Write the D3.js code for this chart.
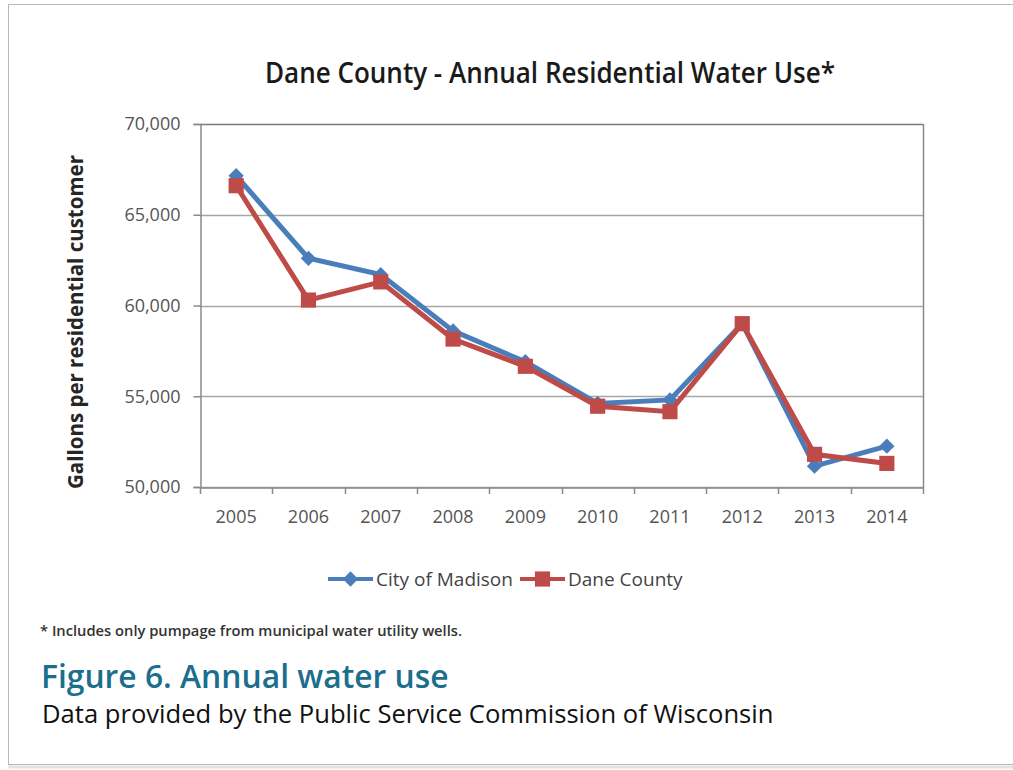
<!DOCTYPE html>
<html>
<head>
<meta charset="utf-8">
<script src="https://cdn.jsdelivr.net/npm/d3@7"></script>
<style>
  body { margin: 0; background: #fff; }
  svg { display: block; }
</style>
</head>
<body>
<svg id="chart" width="1013" height="770"></svg>
<script>
// data
var years = ['2005', '2006', '2007', '2008', '2009', '2010', '2011', '2012', '2013', '2014'];
var madison = [67150, 62600, 61700, 58600, 56900, 54600, 54800, 59000, 51150, 52250];
var dane = [66600, 60300, 61300, 58150, 56650, 54450, 54150, 59000, 51800, 51300];
var yTicks = [50000, 55000, 60000, 65000, 70000];

var svg = d3.select('#chart');

// page frame with a soft shadow
svg.append('rect').attr('x', 10).attr('y', 6).attr('width', 1020).attr('height', 761)
    .attr('fill', 'none').attr('stroke', '#e2e2e2').attr('stroke-width', 3);
svg.append('rect').attr('x', 8.5).attr('y', 4.5).attr('width', 1020).attr('height', 760)
    .attr('fill', '#fff').attr('stroke', '#b8b8b8').attr('stroke-width', 1);

var pLeft = 200, pRight = 923, pTop = 124, pBottom = 487;

var x = d3.scaleBand().domain(years).range([pLeft, pRight]);
var y = d3.scaleLinear().domain([50000, 70000]).range([pBottom, pTop]);

// title
svg.append('text').attr('x', 550).attr('y', 83).attr('text-anchor', 'middle')
    .style('font-family', 'Open Sans').style('font-weight', 600)
    .style('font-size', '28px')
    .attr('textLength', 570).attr('lengthAdjust', 'spacingAndGlyphs')
    .attr('fill', '#1a1a1a')
    .text('Dane County - Annual Residential Water Use*');

// gridlines
svg.append('g').selectAll('line').data(yTicks).join('line')
    .attr('x1', pLeft).attr('x2', pRight)
    .attr('y1', function(d) { return Math.round(y(d)) + 0.5; })
    .attr('y2', function(d) { return Math.round(y(d)) + 0.5; })
    .attr('stroke', function(d) { return d === 70000 ? '#7a7a7a' : '#a6a6a6'; })
    .attr('stroke-width', 1.5);

// plot border right
svg.append('line').attr('x1', pRight + 0.5).attr('x2', pRight + 0.5).attr('y1', pTop).attr('y2', pBottom)
    .attr('stroke', '#8a8a8a').attr('stroke-width', 1.5);

// y axis
var yAxis = svg.append('g').attr('transform', 'translate(' + (pLeft + 0.5) + ',0)')
    .call(d3.axisLeft(y).tickValues(yTicks).tickSize(7).tickPadding(13)
        .tickFormat(d3.format(',')));
yAxis.select('.domain').attr('stroke', '#8a8a8a').attr('stroke-width', 1.5);
yAxis.selectAll('.tick line').attr('stroke', '#8a8a8a').attr('stroke-width', 1.5);
yAxis.selectAll('text').style('font-family', 'Open Sans').style('font-size', '18px')
    .attr('fill', '#555');

// x axis: ticks fall between categories
var xAxis = svg.append('g').attr('transform', 'translate(0,' + (pBottom + 0.5) + ')')
    .call(d3.axisBottom(x).tickSize(0).tickPadding(23));
xAxis.select('.domain').attr('stroke', '#8a8a8a').attr('stroke-width', 1.5);
xAxis.selectAll('text').style('font-family', 'Open Sans').style('font-size', '18px')
    .attr('fill', '#555');
svg.append('g').selectAll('line').data(years.concat(['end'])).join('line')
    .attr('x1', function(d, i) { return Math.round(pLeft + i * x.step()) + 0.5; })
    .attr('x2', function(d, i) { return Math.round(pLeft + i * x.step()) + 0.5; })
    .attr('y1', pBottom).attr('y2', pBottom + 7)
    .attr('stroke', '#8a8a8a').attr('stroke-width', 1.5);

// y axis title
svg.append('text').attr('transform', 'translate(83,322) rotate(-90)')
    .attr('text-anchor', 'middle')
    .style('font-family', 'Open Sans').style('font-weight', 700).style('font-size', '20.5px')
    .attr('fill', '#262626')
    .text('Gallons per residential customer');

var blue = '#4a7ebb', red = '#be4b48';
var cx = function(d, i) { return x(years[i]) + x.bandwidth() / 2; };
var line = d3.line().x(cx).y(function(d) { return y(d); });

var diamond = d3.symbol().type(d3.symbolDiamond2).size(150);
var square = d3.symbol().type(d3.symbolSquare).size(230);

svg.append('path').datum(madison).attr('d', line)
    .attr('fill', 'none').attr('stroke', blue).attr('stroke-width', 5);
svg.append('g').selectAll('path').data(madison).join('path')
    .attr('d', diamond)
    .attr('transform', function(d, i) { return 'translate(' + cx(d, i) + ',' + y(d) + ')'; })
    .attr('fill', blue);

svg.append('path').datum(dane).attr('d', line)
    .attr('fill', 'none').attr('stroke', red).attr('stroke-width', 5);
svg.append('g').selectAll('path').data(dane).join('path')
    .attr('d', square)
    .attr('transform', function(d, i) { return 'translate(' + cx(d, i) + ',' + y(d) + ')'; })
    .attr('fill', red);

// legend
var legend = [
  { name: 'City of Madison', color: blue, sym: diamond, x: 328 },
  { name: 'Dane County', color: red, sym: square, x: 520 }
];
var lg = svg.append('g').selectAll('g').data(legend).join('g')
    .attr('transform', function(d) { return 'translate(' + d.x + ',579)'; });
lg.append('line').attr('x1', 0).attr('x2', 45).attr('stroke', function(d) { return d.color; })
    .attr('stroke-width', 4);
lg.append('path').attr('d', function(d) { return d.sym(); })
    .attr('transform', 'translate(22.5,0)').attr('fill', function(d) { return d.color; });
lg.append('text').attr('x', 48).attr('dy', '0.35em')
    .style('font-family', 'Open Sans').style('font-size', '19px')
    .attr('fill', '#444')
    .text(function(d) { return d.name; });

// footnote and caption
svg.append('text').attr('x', 40).attr('y', 636)
    .style('font-family', 'Open Sans').style('font-weight', 600).style('font-size', '15px')
    .attr('textLength', 422).attr('lengthAdjust', 'spacingAndGlyphs')
    .attr('fill', '#333')
    .text('* Includes only pumpage from municipal water utility wells.');

svg.append('text').attr('x', 41).attr('y', 688)
    .style('font-family', 'Open Sans').style('font-weight', 600).style('font-size', '31.8px')
    .attr('fill', '#1b6f8c')
    .text('Figure 6. Annual water use');

svg.append('text').attr('x', 42).attr('y', 723)
    .style('font-family', 'Open Sans').style('font-size', '25.6px')
    .attr('fill', '#111')
    .text('Data provided by the Public Service Commission of Wisconsin');
</script>
</body>
</html>
